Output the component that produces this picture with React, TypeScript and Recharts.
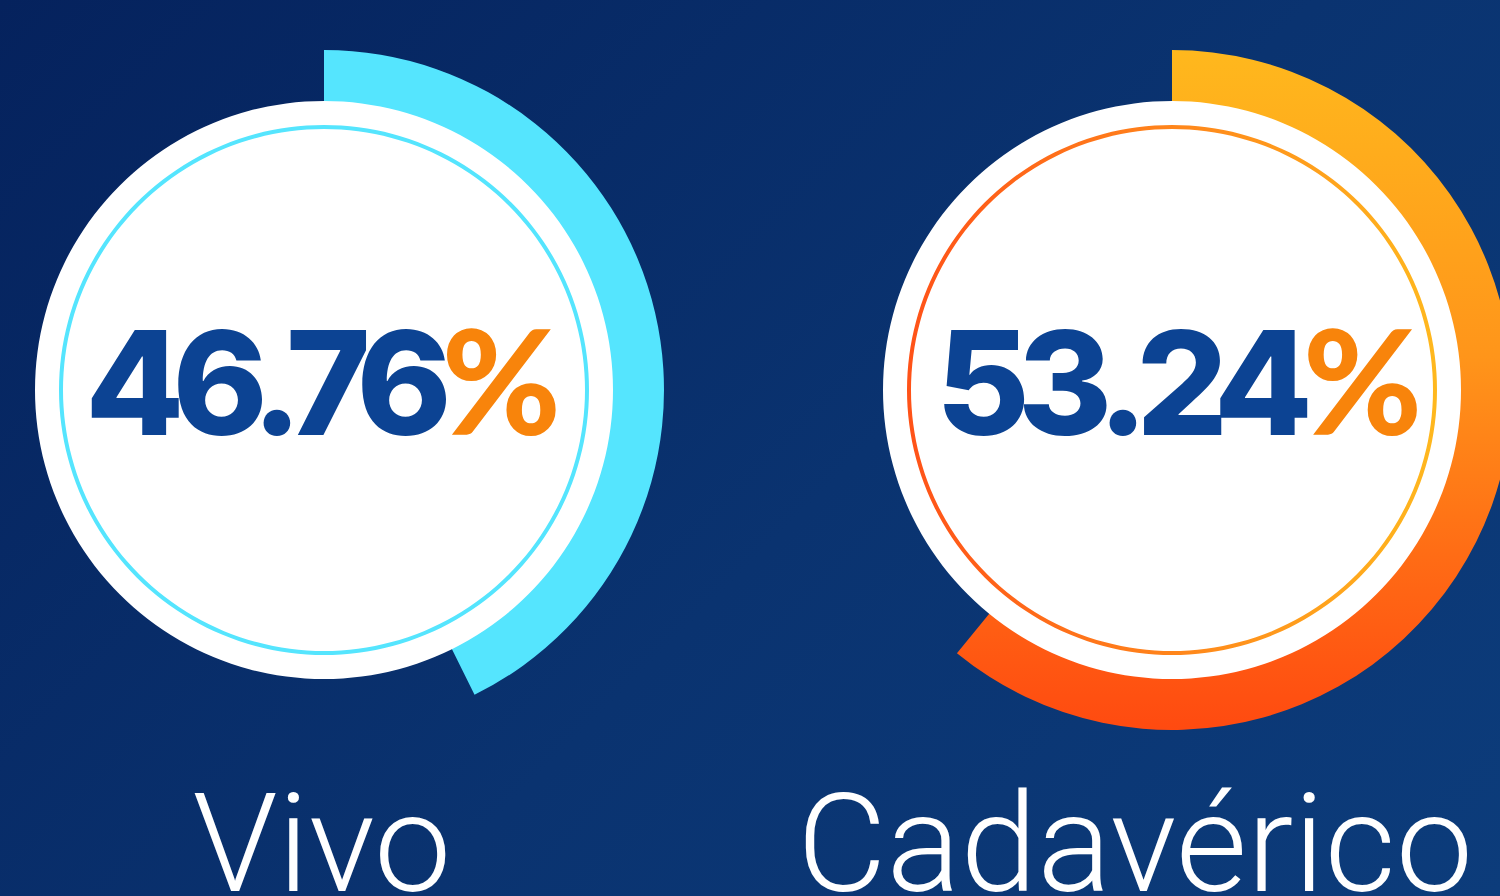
import { PieChart, Pie, Cell } from 'recharts';

// category names and the percentages printed inside each ring
const categories = ['Vivo', 'Cadavérico'];
const percentages = [46.76, 53.24];
// share of the full turn covered by each outer arc, as drawn in the picture
const arcShare = [42.7, 60.9];

const WIDTH = 1500;
const HEIGHT = 896;

// layout for each ring: centre, text offsets
const rings = [
  { cx: 324, cy: 390, labelDx: -2, valueDx: -7, arcFill: '#55E5FE', ringFill: '#55E5FE' },
  { cx: 1172, cy: 390, labelDx: -37, valueDx: 1, arcFill: 'url(#arcOrange)', ringFill: 'url(#ringOrange)' },
];

const BLUE = '#0C4393';
const ORANGE = '#F8840B';

function renderCenter(i: number) {
  return (props: any) => {
    const { cx, cy } = props;
    const r = rings[i];
    return (
      <g>
        <text
          x={cx + r.valueDx}
          y={cy + 45}
          textAnchor="middle"
          fontFamily="Inter, 'Noto Sans', sans-serif"
          fontWeight={800}
          fontSize={144}
          letterSpacing={-12}
          fill={BLUE}
        >
          {percentages[i].toFixed(2)}
          <tspan fill={ORANGE} fontFamily="Lato, sans-serif" fontWeight={900} dx={2}>%</tspan>
        </text>
        <text
          x={cx + r.labelDx}
          y={cy + 501}
          textAnchor="middle"
          fontFamily="Roboto, sans-serif"
          fontWeight={300}
          fontSize={138}
          fill="#FFFFFF"
        >
          {categories[i]}
        </text>
      </g>
    );
  };
}

export default function App() {
  return (
    <div
      style={{
        position: 'fixed',
        left: 0,
        top: 0,
        width: WIDTH,
        height: HEIGHT,
        overflow: 'hidden',
        background: 'linear-gradient(135deg, #05225D 0%, #0A3370 55%, #0C3C7B 100%)',
      }}
    >
      <PieChart width={WIDTH} height={HEIGHT} margin={{ top: 0, right: 0, bottom: 0, left: 0 }}>
        <defs>
          <linearGradient id="arcOrange" x1="0" y1="0" x2="0" y2="1">
            <stop offset="0%" stopColor="#FFB81D" />
            <stop offset="45%" stopColor="#FF951A" />
            <stop offset="80%" stopColor="#FF6414" />
            <stop offset="100%" stopColor="#FF4A10" />
          </linearGradient>
          <linearGradient id="ringOrange" x1="0" y1="0" x2="1" y2="0">
            <stop offset="0%" stopColor="#FF5218" />
            <stop offset="100%" stopColor="#FFB81E" />
          </linearGradient>
        </defs>
        {rings.map((r, i) => (
          <Pie
            key={`arc-${i}`}
            data={[{ name: categories[i], value: arcShare[i] }, { name: 'rest', value: 100 - arcShare[i] }]}
            dataKey="value"
            cx={r.cx}
            cy={r.cy}
            startAngle={90}
            endAngle={-270}
            innerRadius={286}
            outerRadius={340}
            stroke="none"
            isAnimationActive={false}
          >
            <Cell fill={r.arcFill} />
            <Cell fill="transparent" />
          </Pie>
        ))}
        {rings.map((r, i) => (
          <Pie
            key={`disk-${i}`}
            data={[{ name: categories[i], value: 1 }]}
            dataKey="value"
            cx={r.cx}
            cy={r.cy}
            startAngle={90}
            endAngle={-270}
            innerRadius={0}
            outerRadius={289}
            fill="#FFFFFF"
            stroke="none"
            isAnimationActive={false}
          />
        ))}
        {rings.map((r, i) => (
          <Pie
            key={`ring-${i}`}
            data={[{ name: categories[i], value: 1 }]}
            dataKey="value"
            cx={r.cx}
            cy={r.cy}
            startAngle={90}
            endAngle={-270}
            innerRadius={261}
            outerRadius={265}
            fill={r.ringFill}
            stroke="none"
            labelLine={false}
            label={renderCenter(i)}
            isAnimationActive={false}
          />
        ))}
      </PieChart>
    </div>
  );
}
